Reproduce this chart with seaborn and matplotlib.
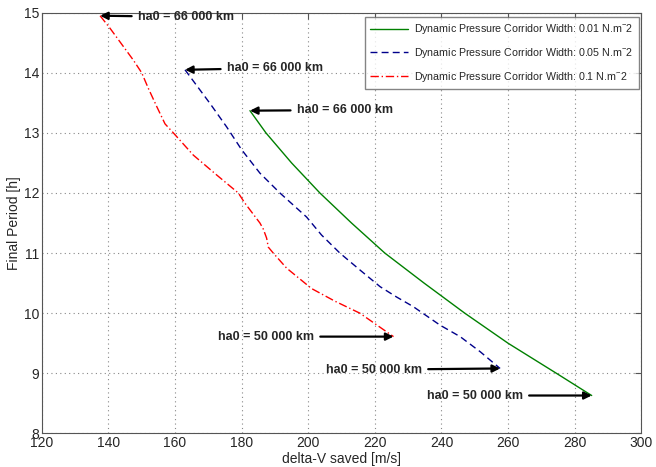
import matplotlib
matplotlib.use("Agg")
import matplotlib.pyplot as plt
import seaborn as sns

# --- data ---
green_dv = [182.5, 187.3, 195.0, 203.5, 213.0, 223.0, 234.8, 247.0, 260.0, 274.5, 285.1]
green_T  = [13.37, 13.00, 12.50, 12.00, 11.50, 11.00, 10.50, 10.00, 9.50, 9.00, 8.63]

blue_dv = [163.0, 170.5, 175.5, 180.0, 185.5, 191.5, 199.5, 204.0, 209.5, 215.5, 221.6, 226.5, 231.5, 239.6, 245.6, 251.6, 257.6]
blue_T  = [14.05, 13.49, 13.10, 12.72, 12.33, 12.00, 11.60, 11.30, 11.00, 10.72, 10.44, 10.27, 10.11, 9.80, 9.61, 9.36, 9.08]

red_dv = [137.5, 140.5, 147.5, 150.0, 152.0, 154.5, 157.0, 159.5, 165.5, 172.5, 179.0, 181.0, 185.5, 186.5, 187.5, 188.0, 189.5, 193.5, 201.0, 208.0, 215.5, 225.6]
red_T  = [14.95, 14.74, 14.21, 14.00, 13.74, 13.44, 13.15, 13.00, 12.63, 12.30, 12.00, 11.83, 11.50, 11.40, 11.25, 11.10, 11.00, 10.75, 10.41, 10.20, 10.00, 9.61]

labels = ["Dynamic Pressure Corridor Width: 0.01 N.m$^{-}$2",
          "Dynamic Pressure Corridor Width: 0.05 N.m$^{-}$2",
          "Dynamic Pressure Corridor Width: 0.1 N.m$^{-}$2"]

x_ticks = [120, 140, 160, 180, 200, 220, 240, 260, 280, 300]
y_ticks = [8, 9, 10, 11, 12, 13, 14, 15]

sns.set_style("white")
plt.rcParams['font.family'] = ['Liberation Sans', 'DejaVu Sans']
plt.rcParams['mathtext.fontset'] = 'custom'
plt.rcParams['mathtext.rm'] = 'Liberation Sans'
plt.rcParams['mathtext.it'] = 'Liberation Sans'

fig = plt.figure(figsize=(6.56, 4.67), dpi=100)
ax = fig.add_axes([0.0637, 0.072, 0.9139, 0.9008])

sns.lineplot(x=green_dv, y=green_T, ax=ax, sort=False, estimator=None,
             color='#008000', lw=1.0, label=labels[0])
sns.lineplot(x=blue_dv, y=blue_T, ax=ax, sort=False, estimator=None,
             color='#00008B', lw=1.0, label=labels[1], linestyle=(0, (5, 3)))
sns.lineplot(x=red_dv, y=red_T, ax=ax, sort=False, estimator=None,
             color='#FF0000', lw=1.0, label=labels[2], linestyle=(0, (6, 2, 1, 2)))

ax.set_xlim(120, 300)
ax.set_ylim(8, 15)
ax.set_xticks(x_ticks)
ax.set_yticks(y_ticks)
ax.tick_params(direction='in', length=4, labelsize=10, top=True, right=True,
               color='#555555', pad=2)
ax.grid(True, linestyle=(0, (1, 3)), color='#888888', lw=0.8)
for s in ax.spines.values():
    s.set_color('#555555')
    s.set_linewidth(0.8)

ax.set_xlabel("delta-V saved [m/s]", fontsize=10, labelpad=1)
ax.set_ylabel("Final Period [h]", fontsize=10, labelpad=2)

leg = ax.legend(loc='upper right', fontsize=7.7, frameon=True, fancybox=False,
                edgecolor='#666666', handlelength=3.5, handletextpad=0.6,
                borderpad=0.5, labelspacing=0.9, borderaxespad=0,
                bbox_to_anchor=(0.996, 0.990))
leg.get_frame().set_linewidth(1.0)

arrow = dict(arrowstyle='-|>', color='black', lw=1.6, mutation_scale=11, shrinkA=2, shrinkB=0)
tfont = dict(fontsize=9, fontweight='bold', va='center')

# top annotations (text to the right of the arrow)
ax.annotate("ha0 = 66 000 km", xy=(red_dv[0], red_T[0]), xytext=(148.8, 14.93),
            ha='left', arrowprops=arrow, **tfont)
ax.annotate("ha0 = 66 000 km", xy=(blue_dv[0], blue_T[0]), xytext=(175.5, 14.08),
            ha='left', arrowprops=arrow, **tfont)
ax.annotate("ha0 = 66 000 km", xy=(green_dv[0], green_T[0]), xytext=(196.5, 13.38),
            ha='left', arrowprops=arrow, **tfont)

# bottom annotations (text to the left of the arrow)
ax.annotate("ha0 = 50 000 km", xy=(red_dv[-1], red_T[-1]), xytext=(201.8, 9.61),
            ha='right', arrowprops=arrow, **tfont)
ax.annotate("ha0 = 50 000 km", xy=(blue_dv[-1], blue_T[-1]), xytext=(234.2, 9.06),
            ha='right', arrowprops=arrow, **tfont)
ax.annotate("ha0 = 50 000 km", xy=(green_dv[-1], green_T[-1]), xytext=(264.5, 8.63),
            ha='right', arrowprops=arrow, **tfont)

fig.savefig("out.png", dpi=100)
